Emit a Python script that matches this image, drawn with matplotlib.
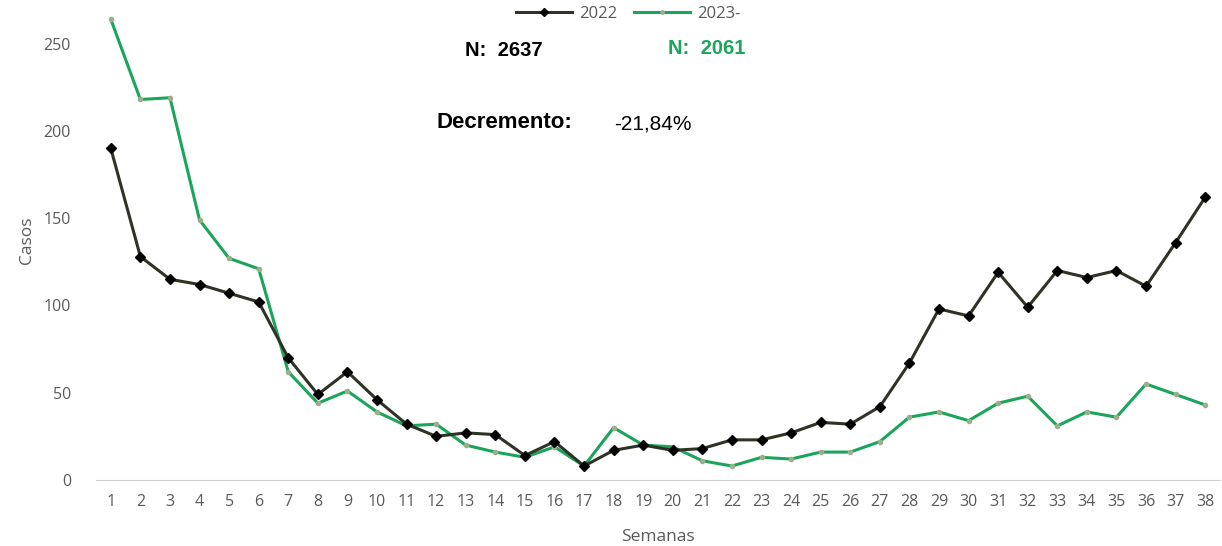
import matplotlib
matplotlib.use("Agg")
import matplotlib.pyplot as plt

# weekly cases
weeks = list(range(1, 39))
cases_2022 = [190, 128, 115, 112, 107, 102, 70, 49, 62, 46, 32, 25, 27, 26, 14, 22, 8, 17, 20,
              17, 18, 23, 23, 27, 33, 32, 42, 67, 98, 94, 119, 99, 120, 116, 120, 111, 136, 162]
cases_2023 = [264, 218, 219, 149, 127, 121, 62, 44, 51, 39, 31, 32, 20, 16, 13, 19, 8, 30, 20,
              19, 11, 8, 13, 12, 16, 16, 22, 36, 39, 34, 44, 48, 31, 39, 36, 55, 49, 43]
labels = ["2022", "2023-"]

plt.rcParams['font.family'] = ['Open Sans', 'DejaVu Sans']
ARIAL = ['Liberation Sans', 'DejaVu Sans']

fig = plt.figure(figsize=(12.22, 5.46), dpi=100)
ax = fig.add_axes([96 / 1222, 66 / 546, (1220 - 96) / 1222, 480 / 546])

ax.plot(weeks, cases_2022, color="#2f3326", lw=2.2, marker="D", ms=5.5,
        mfc="black", mec="black", label=labels[0], zorder=3)
ax.plot(weeks, cases_2023, color="#1aa55a", lw=2.2, marker="o", ms=3,
        mfc="#9bb08a", mec="#9bb08a", label=labels[1], zorder=2)

ax.set_xlim(0.5, 38.5)
ax.set_ylim(0, 275)
ax.set_xticks(weeks)
ax.set_yticks([0, 50, 100, 150, 200, 250])
for s in ["top", "right", "left"]:
    ax.spines[s].set_visible(False)
ax.spines["bottom"].set_color("#d0d0d0")
ax.tick_params(axis="both", length=0, labelsize=11.5, colors="#595959")
ax.tick_params(axis="x", pad=10)
ax.tick_params(axis="y", pad=18)
ax.set_xlabel("Semanas", fontsize=12.5, color="#595959", labelpad=14)
ax.set_ylabel("Casos", fontsize=12.5, color="#595959", labelpad=6)

leg = fig.legend(loc="center", bbox_to_anchor=(628 / 1222, 1 - 14 / 546), ncol=2,
                 frameon=False, fontsize=12, handlelength=3.4, columnspacing=1.0,
                 handletextpad=0.4, markerscale=0.8)
for t in leg.get_texts():
    t.set_color("#595959")

fig.text(465 / 1222, 1 - 50 / 546, "N:  2637", fontsize=14.5, fontweight="bold",
         family=ARIAL, va="center")
fig.text(668 / 1222, 1 - 48 / 546, "N:  2061", fontsize=14.5, fontweight="bold",
         color="#1aa55a", family=ARIAL, va="center")
fig.text(437 / 1222, 1 - 123 / 546, "Decremento:", fontsize=16, fontweight="bold",
         family=ARIAL, va="center")
fig.text(614 / 1222, 1 - 124 / 546, "-21,84%", fontsize=15, family=ARIAL, va="center")

fig.savefig("out.png", dpi=100)
